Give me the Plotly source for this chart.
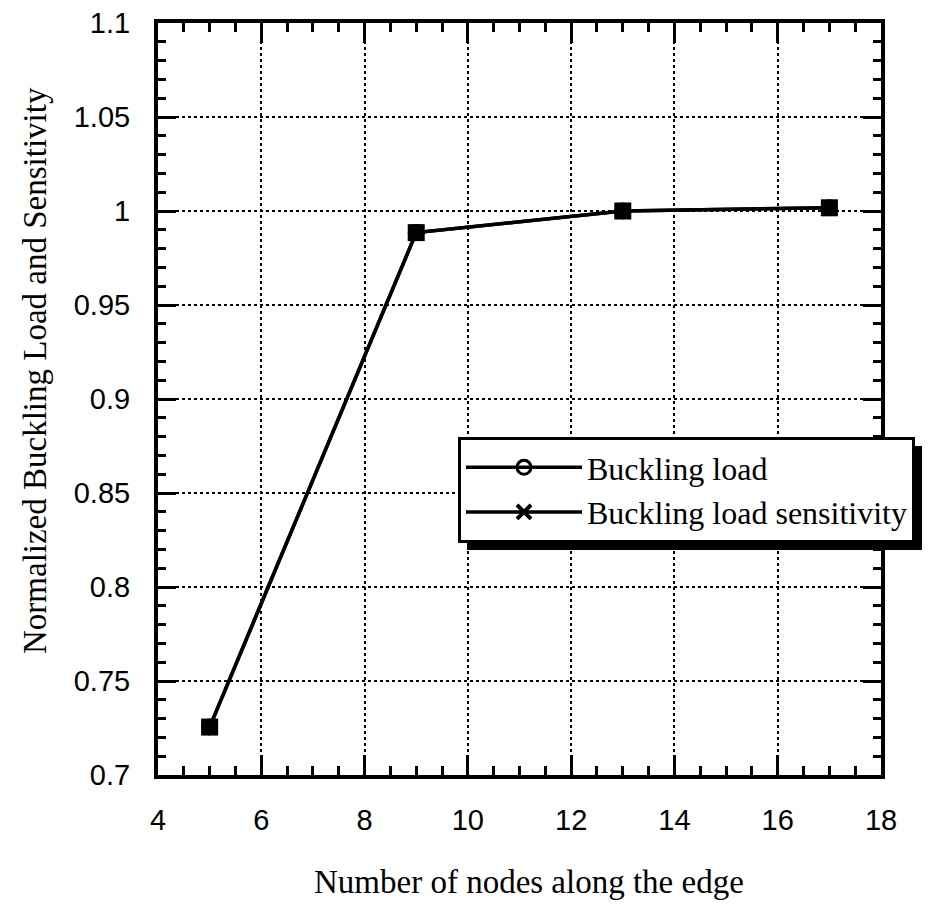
import plotly.graph_objects as go

nodes = [5, 9, 13, 17]
buckling_load = [0.7255, 0.9885, 1.0000, 1.0017]
buckling_sens = [0.7255, 0.9885, 1.0000, 1.0017]

x_ticks = [4, 6, 8, 10, 12, 14, 16, 18]
y_ticks = [0.7, 0.75, 0.8, 0.85, 0.9, 0.95, 1.0, 1.05, 1.1]
y_tick_text = ["0.7", "0.75", "0.8", "0.85", "0.9", "0.95", "1", "1.05", "1.1"]

x_title = "Number of nodes along the edge"
y_title = "Normalized Buckling Load and Sensitivity"

fig = go.Figure()
fig.add_trace(go.Scatter(
    x=nodes, y=buckling_load, name="Buckling load", mode="lines+markers",
    line=dict(color="black", width=3.5),
    marker=dict(symbol="circle-open", size=14, color="black", line=dict(width=3)),
))
fig.add_trace(go.Scatter(
    x=nodes, y=buckling_sens, name="Buckling load sensitivity", mode="lines+markers",
    line=dict(color="black", width=3.5),
    marker=dict(symbol="x-thin-open", size=14, color="black", line=dict(width=4)),
))
fig.add_trace(go.Scatter(
    x=nodes, y=buckling_load, mode="markers", showlegend=False, hoverinfo="skip",
    marker=dict(symbol="square", size=17, color="black"),
))

# page body has an 8px offset; target plot area in window px
OFF = 8
PL, PR, PT, PB = 158, 881, 23, 775
W, H = 923, 898
L, T = PL - OFF, PT - OFF
R, B = OFF + W - PR, OFF + H - PB
pw, ph = PR - PL, PB - PT

serif = "Liberation Serif, Times New Roman, serif"
sans = "Liberation Sans, Arial, Helvetica, sans-serif"

axis_common = dict(
    showline=True, linecolor="black", linewidth=4, mirror="ticks",
    ticks="inside", tickcolor="black", tickwidth=3,
    showgrid=True, gridcolor="black", gridwidth=2, griddash="dot",
    zeroline=False, ticklabeloverflow="allow",
    tickfont=dict(family=sans, size=29, color="black"),
)

fig.update_xaxes(
    range=[4, 18], tickvals=x_ticks, ticklen=20,
    minor=dict(dtick=0.5, ticks="inside", ticklen=9, tickwidth=3, tickcolor="black", showgrid=False),
    ticklabelstandoff=16,
    **axis_common,
)
fig.update_yaxes(
    range=[0.7, 1.1], tickvals=y_ticks, ticktext=y_tick_text, ticklen=18,
    minor=dict(dtick=0.01, ticks="inside", ticklen=8, tickwidth=3, tickcolor="black", showgrid=False),
    ticklabelstandoff=18,
    **axis_common,
)

def px_x(v):
    return (v - PL) / pw

def px_y(v):
    return (PB - v) / ph

fig.add_annotation(text=x_title, xref="paper", yref="paper",
                   x=px_x(529), y=px_y(882), xanchor="center", yanchor="middle",
                   showarrow=False, font=dict(family=serif, size=33, color="black"))
fig.add_annotation(text=y_title, xref="paper", yref="paper", textangle=-90,
                   x=px_x(35), y=px_y(371), xanchor="center", yanchor="middle",
                   showarrow=False, font=dict(family=serif, size=33, color="black"))

lx0, ly0, lx1, ly1 = 458, 437, 913, 541
SH = 9
fig.add_shape(type="rect", xref="paper", yref="paper", layer="above",
              x0=px_x(lx0 + SH), x1=px_x(lx1 + SH),
              y0=px_y(ly1 + SH), y1=px_y(ly0 + SH),
              fillcolor="black", line=dict(width=0))

fig.update_layout(
    width=W, height=H,
    margin=dict(l=L, r=R, t=T, b=B, autoexpand=False),
    paper_bgcolor="white", plot_bgcolor="white",
    showlegend=True,
    legend=dict(
        x=px_x(lx0), y=px_y(ly0), xanchor="left", yanchor="top",
        bgcolor="white", bordercolor="black", borderwidth=3,
        font=dict(family=serif, size=32, color="black"),
        itemwidth=116, tracegroupgap=0,
    ),
)

fig.write_html("out.html")
